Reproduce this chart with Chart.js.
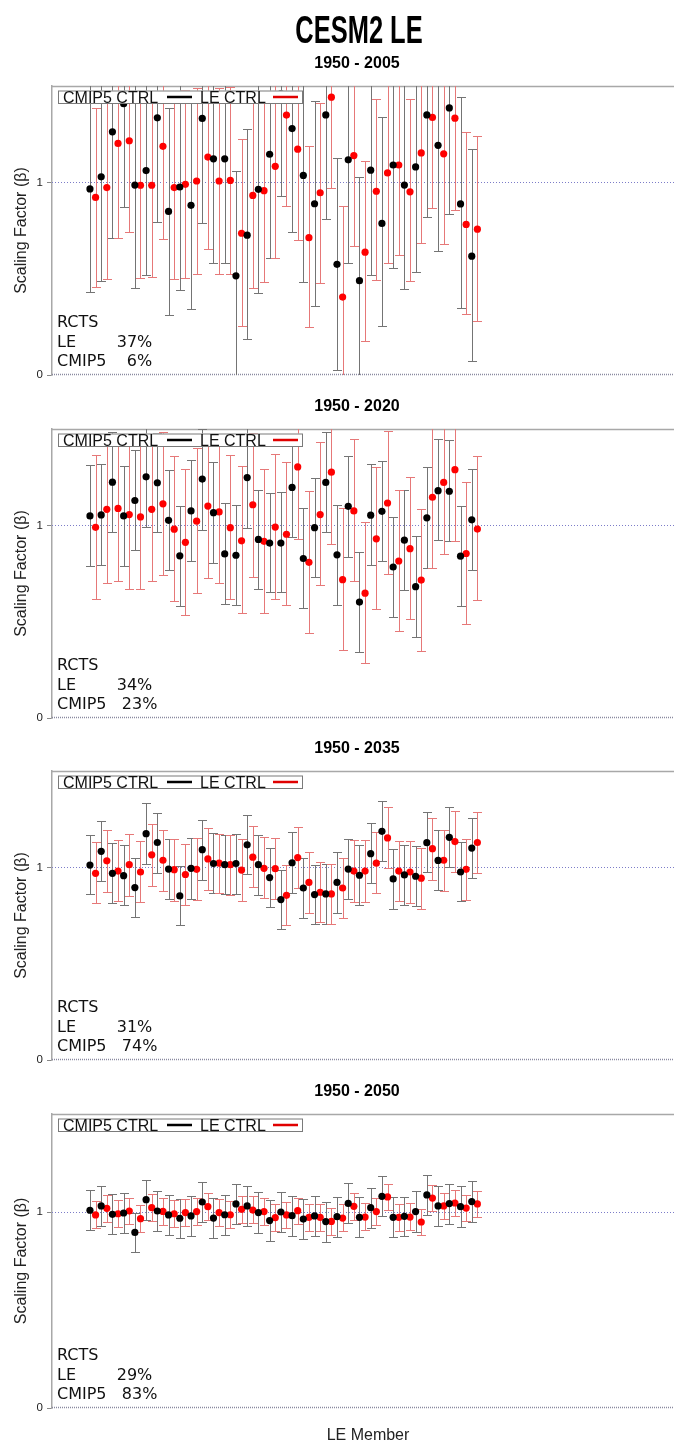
<!DOCTYPE html>
<html>
<head>
<meta charset="utf-8">
<script src="https://cdn.jsdelivr.net/npm/chart.js@4.4.1/dist/chart.umd.min.js"></script>
<style>
  html, body { margin: 0; padding: 0; background: #fff; overflow: hidden; width: 674px; height: 1443px; }
  #wrap { position: relative; width: 674px; height: 1443px; overflow: hidden; }
  canvas { position: absolute; left: 0; }
  #title {
    position: absolute; left: 0; top: 11px; width: 718px; margin: 0;
    text-align: center; font: bold 38px/38px 'Liberation Sans', Arial, sans-serif;
    color: #000; transform: scaleX(0.67); transform-origin: 359px 0;
  }
</style>
</head>
<body>
<div id="wrap">
  <canvas id="p0" width="714" height="386" style="top:0px"></canvas>
  <canvas id="p1" width="714" height="340" style="top:389px"></canvas>
  <canvas id="p2" width="714" height="340" style="top:731px"></canvas>
  <canvas id="p3" width="714" height="380" style="top:1074px"></canvas>
  <h1 id="title">CESM2 LE</h1>
</div>
<script>
// ---- data ----
const periods = ['1950 - 2005', '1950 - 2020', '1950 - 2035', '1950 - 2050'];
const rctsLE = [37, 34, 31, 29];
const rctsCMIP5 = [6, 23, 74, 83];
const yTicks = [0, 1];

// 1950 - 2005
const cmip1V  = [0.966,1.029,1.262,1.408,0.986,1.061,1.335,0.849,0.976,0.881,1.332,1.122,1.122,0.515,0.726,0.964,1.146,1.460,1.279,1.036,0.889,1.350,0.575,1.117,0.490,1.063,0.787,1.090,0.986,1.080,1.350,1.192,1.386,0.888,0.617];
const cmip1Lo = [0.429,0.490,0.709,0.872,0.452,0.520,0.794,0.313,0.444,0.345,0.789,0.580,0.583,-0.030,0.187,0.425,0.607,0.927,0.743,0.485,0.357,0.808,0.029,0.580,-0.049,0.519,0.253,0.554,0.449,0.536,0.818,0.646,0.838,0.349,0.075];
const cmip1Hi = [1.503,1.568,1.815,1.944,1.520,1.602,1.876,1.385,1.508,1.417,1.875,1.664,1.661,1.060,1.279,1.503,1.685,1.993,1.815,1.587,1.421,1.892,1.129,1.654,1.029,1.607,1.338,1.626,1.523,1.624,1.882,1.738,1.934,1.444,1.173];
const le1V    = [0.922,0.973,1.202,1.216,0.985,0.985,1.187,0.973,0.990,1.007,1.131,1.007,1.010,0.736,0.932,0.957,1.083,1.349,1.172,0.713,0.946,1.442,0.405,1.139,0.638,0.954,1.049,1.090,0.951,1.153,1.337,1.148,1.333,0.782,0.757];
const le1Lo   = [0.456,0.497,0.713,0.743,0.503,0.508,0.707,0.500,0.503,0.526,0.656,0.526,0.526,0.255,0.454,0.483,0.607,0.876,0.699,0.250,0.478,0.969,-0.070,0.672,0.175,0.491,0.583,0.622,0.486,0.684,0.869,0.679,0.859,0.318,0.281];
const le1Hi   = [1.388,1.449,1.691,1.689,1.467,1.462,1.667,1.446,1.477,1.488,1.606,1.488,1.494,1.224,1.410,1.431,1.559,1.822,1.645,1.187,1.414,1.915,0.876,1.606,1.110,1.432,1.515,1.558,1.430,1.622,1.805,1.617,1.807,1.259,1.241];

// 1950 - 2020
const cmip2V  = [1.049,1.054,1.224,1.049,1.129,1.252,1.221,1.026,0.842,1.075,1.240,1.066,0.852,0.845,1.248,0.927,0.908,0.908,1.197,0.828,0.988,1.223,0.847,1.099,0.602,1.053,1.073,0.784,0.923,0.682,1.039,1.180,1.177,0.840,1.029];
const cmip2Lo = [0.791,0.796,0.966,0.791,0.871,0.990,0.963,0.767,0.582,0.815,0.978,0.806,0.592,0.588,0.985,0.670,0.653,0.653,0.939,0.570,0.730,0.963,0.588,0.838,0.344,0.796,0.815,0.527,0.667,0.423,0.781,0.922,0.917,0.582,0.769];
const cmip2Hi = [1.313,1.320,1.482,1.310,1.391,1.514,1.479,1.289,1.100,1.338,1.502,1.330,1.114,1.104,1.511,1.185,1.168,1.172,1.455,1.090,1.248,1.483,1.107,1.361,0.861,1.318,1.335,1.044,1.185,0.944,1.304,1.447,1.442,1.102,1.293];
const le2V    = [0.990,1.083,1.088,1.056,1.044,1.083,1.112,0.980,0.912,1.022,1.100,1.070,0.988,0.920,1.107,0.917,0.991,0.954,1.303,0.808,1.056,1.276,0.718,1.075,0.648,0.930,1.116,0.815,0.879,0.716,1.146,1.223,1.289,0.854,0.981];
const le2Lo   = [0.619,0.701,0.709,0.668,0.668,0.711,0.740,0.607,0.534,0.648,0.726,0.701,0.616,0.543,0.733,0.546,0.619,0.588,0.930,0.444,0.689,0.905,0.354,0.709,0.284,0.565,0.750,0.452,0.514,0.350,0.777,0.850,0.918,0.490,0.612];
const le2Hi   = [1.366,1.465,1.467,1.444,1.420,1.455,1.484,1.361,1.294,1.401,1.474,1.439,1.366,1.306,1.481,1.291,1.372,1.328,1.676,1.180,1.432,1.647,1.090,1.449,1.015,1.301,1.490,1.185,1.252,1.085,1.515,1.596,1.660,1.226,1.359];

// 1950 - 2035
const cmip3V  = [1.012,1.083,0.969,0.957,0.895,1.175,1.129,0.991,0.852,0.995,1.092,1.020,1.014,1.020,1.117,1.014,0.947,0.833,1.024,0.893,0.859,0.862,0.922,0.991,0.959,1.071,1.187,0.940,0.961,0.954,1.128,1.036,1.156,0.976,1.100];
const cmip3Lo = [0.861,0.927,0.815,0.804,0.741,1.019,0.973,0.838,0.699,0.838,0.935,0.866,0.861,0.864,0.963,0.859,0.793,0.679,0.867,0.736,0.704,0.707,0.765,0.837,0.804,0.917,1.032,0.786,0.806,0.799,0.974,0.881,1.000,0.823,0.947];
const cmip3Hi = [1.167,1.238,1.126,1.114,1.049,1.332,1.284,1.148,1.005,1.151,1.245,1.179,1.170,1.173,1.274,1.168,1.100,0.988,1.182,1.049,1.014,1.017,1.078,1.146,1.116,1.228,1.342,1.095,1.116,1.109,1.286,1.194,1.313,1.133,1.255];
const le3V    = [0.969,1.034,0.981,1.014,0.976,1.065,1.037,0.988,0.963,0.990,1.044,1.022,1.014,0.986,1.053,0.995,0.993,0.855,1.051,0.922,0.871,0.862,0.893,0.981,0.981,1.022,1.153,0.981,0.976,0.944,1.097,1.037,1.134,0.990,1.129];
const le3Lo   = [0.813,0.872,0.825,0.852,0.818,0.905,0.879,0.828,0.806,0.830,0.884,0.866,0.859,0.827,0.896,0.842,0.837,0.699,0.893,0.765,0.714,0.706,0.736,0.821,0.821,0.866,0.995,0.823,0.816,0.786,0.937,0.879,0.976,0.833,0.971];
const le3Hi   = [1.131,1.192,1.141,1.173,1.139,1.224,1.196,1.146,1.121,1.150,1.202,1.173,1.167,1.146,1.213,1.156,1.150,1.012,1.211,1.078,1.027,1.019,1.049,1.141,1.141,1.182,1.313,1.139,1.136,1.102,1.257,1.196,1.293,1.148,1.289];

// 1950 - 2050
const cmip4V  = [1.009,1.031,0.988,0.995,0.896,1.063,1.005,0.985,0.968,0.980,1.051,0.969,0.986,1.041,1.031,0.997,0.956,1.000,0.981,0.964,0.980,0.951,0.976,1.044,0.973,1.022,1.080,0.973,0.978,1.002,1.087,1.031,1.043,1.027,1.053];
const cmip4Lo = [0.906,0.929,0.886,0.893,0.794,0.961,0.903,0.883,0.867,0.878,0.949,0.867,0.884,0.939,0.929,0.895,0.854,0.898,0.879,0.862,0.879,0.849,0.874,0.942,0.871,0.920,0.978,0.871,0.876,0.900,0.985,0.929,0.940,0.925,0.951];
const cmip4Hi = [1.111,1.134,1.090,1.097,0.997,1.165,1.107,1.085,1.068,1.082,1.155,1.073,1.088,1.145,1.134,1.100,1.060,1.102,1.083,1.066,1.083,1.053,1.078,1.146,1.075,1.124,1.182,1.075,1.078,1.107,1.190,1.133,1.145,1.131,1.156];
const le4V    = [0.985,1.019,0.991,1.005,0.966,1.022,1.003,0.991,0.997,1.002,1.027,0.997,0.986,1.014,1.010,1.002,0.971,0.985,1.007,0.973,0.973,0.952,0.969,1.029,0.974,1.002,1.077,0.973,0.974,0.949,1.071,1.031,1.046,1.020,1.041];
const le4Lo   = [0.918,0.951,0.923,0.939,0.896,0.954,0.934,0.923,0.929,0.934,0.959,0.927,0.918,0.946,0.942,0.934,0.903,0.917,0.937,0.905,0.905,0.884,0.901,0.961,0.906,0.934,1.008,0.905,0.906,0.883,1.003,0.963,0.978,0.952,0.973];
const le4Hi   = [1.056,1.086,1.061,1.070,1.034,1.090,1.071,1.061,1.066,1.071,1.095,1.066,1.056,1.082,1.080,1.070,1.041,1.053,1.073,1.041,1.041,1.020,1.039,1.097,1.044,1.070,1.145,1.042,1.044,1.017,1.139,1.099,1.114,1.088,1.109];

const cmipV  = [cmip1V, cmip2V, cmip3V, cmip4V];
const cmipLo = [cmip1Lo, cmip2Lo, cmip3Lo, cmip4Lo];
const cmipHi = [cmip1Hi, cmip2Hi, cmip3Hi, cmip4Hi];
const leV    = [le1V, le2V, le3V, le4V];
const leLo   = [le1Lo, le2Lo, le3Lo, le4Lo];
const leHi   = [le1Hi, le2Hi, le3Hi, le4Hi];

// ---- style ----
const SANS = "'Liberation Sans', Arial, sans-serif";
const DEJA = "'DejaVu Sans', sans-serif";
const X_MIN = -3.38, X_MAX = 52.9;   // member axis (black at i, red at i+0.5)

Chart.defaults.font.family = SANS;
Chart.defaults.color = '#222';

// error bars under the points
const errorBars = {
  id: 'errorBars',
  beforeDatasetsDraw(chart) {
    const { ctx, chartArea: a, scales: { x, y } } = chart;
    ctx.save();
    ctx.beginPath();
    ctx.rect(a.left, a.top, a.right - a.left, a.bottom - a.top);
    ctx.clip();
    ctx.lineWidth = 1;
    chart.data.datasets.forEach(ds => {
      ctx.strokeStyle = ds.barColor;
      ds.data.forEach((p, i) => {
        const px = Math.round(x.getPixelForValue(p.x)) + 0.5;
        const yt = Math.round(y.getPixelForValue(ds.hi[i])) + 0.5;
        const yb = Math.round(y.getPixelForValue(ds.lo[i])) + 0.5;
        ctx.beginPath();
        ctx.moveTo(px, yt); ctx.lineTo(px, yb);
        ctx.moveTo(px - 4.5, yt); ctx.lineTo(px + 4.5, yt);
        ctx.moveTo(px - 4.5, yb); ctx.lineTo(px + 4.5, yb);
        ctx.stroke();
      });
    });
    ctx.restore();
  }
};

// frame: top border, dotted zero line, dotted 1 line
const frame = {
  id: 'frame',
  beforeDatasetsDraw(chart) {
    const { ctx, chartArea: a, scales: { y } } = chart;
    ctx.save();
    ctx.strokeStyle = '#a8a8a8';
    ctx.lineWidth = 1.5;
    ctx.beginPath(); ctx.moveTo(a.left, a.top + 0.5); ctx.lineTo(a.right + 40, a.top + 0.5); ctx.stroke();
    const y1 = Math.round(y.getPixelForValue(1)) + 0.5;
    ctx.strokeStyle = '#7c7cc8';
    ctx.lineWidth = 1;
    ctx.setLineDash([1, 2]);
    ctx.beginPath(); ctx.moveTo(a.left, y1); ctx.lineTo(a.right + 40, y1); ctx.stroke();
    const y0 = Math.round(y.getPixelForValue(0)) - 0.5;
    ctx.strokeStyle = '#8a8aa0';
    ctx.lineWidth = 1.5;
    ctx.setLineDash([1, 1]);
    ctx.beginPath(); ctx.moveTo(a.left, y0); ctx.lineTo(a.right + 40, y0); ctx.stroke();
    ctx.restore();
  }
};

// boxed legend + RCTS note inside the plot
const annotations = {
  id: 'annotations',
  afterDatasetsDraw(chart, args, opts) {
    const { ctx, chartArea: a } = chart;
    ctx.save();
    const bx = a.left + 6, by = a.top + 4.5, bw = 244, bh = 12.5;
    ctx.fillStyle = '#fff';
    ctx.fillRect(bx, by, bw, bh);
    ctx.strokeStyle = '#7a7a7a';
    ctx.lineWidth = 1;
    ctx.strokeRect(bx + 0.5, by + 0.5, bw, bh);
    ctx.fillStyle = '#111';
    ctx.font = '16px ' + SANS;
    ctx.textBaseline = 'alphabetic';
    ctx.fillText(chart.data.datasets[0].label, a.left + 11, by + bh - 0.5);
    ctx.fillText(chart.data.datasets[1].label, a.left + 148, by + bh - 0.5);
    ctx.lineWidth = 2.5;
    ctx.strokeStyle = '#000';
    ctx.beginPath(); ctx.moveTo(a.left + 115, by + 6.5); ctx.lineTo(a.left + 140, by + 6.5); ctx.stroke();
    ctx.strokeStyle = '#e00000';
    ctx.beginPath(); ctx.moveTo(a.left + 221, by + 6.5); ctx.lineTo(a.left + 246, by + 6.5); ctx.stroke();

    const pad3 = n => String(n).padStart(3, ' ');
    ctx.fillStyle = '#111';
    ctx.font = '16px ' + DEJA;
    const x0 = a.left + 5;
    ctx.fillText('RCTS', x0, a.bottom - 48.5);
    ctx.fillText('LE       ' + pad3(opts.le) + '%', x0, a.bottom - 28.5);
    ctx.fillText('CMIP5  ' + pad3(opts.cmip) + '%', x0, a.bottom - 9.5);
    ctx.restore();
  }
};

function makePanel(k) {
  const last = k === 3;
  const first = k === 0;
  const ctx = document.getElementById('p' + k).getContext('2d');
  return new Chart(ctx, {
    type: 'scatter',
    data: {
      datasets: [
        {
          label: 'CMIP5 CTRL',
          data: cmipV[k].map((v, i) => ({ x: i, y: v })),
          lo: cmipLo[k], hi: cmipHi[k],
          barColor: '#747474',
          backgroundColor: '#000000',
          pointRadius: 3.6, borderWidth: 0
        },
        {
          label: 'LE CTRL',
          data: leV[k].map((v, i) => ({ x: i + 0.5, y: v })),
          lo: leLo[k], hi: leHi[k],
          barColor: '#e67878',
          backgroundColor: '#ff0000',
          pointRadius: 3.6, borderWidth: 0
        }
      ]
    },
    options: {
      responsive: false,
      animation: false,
      devicePixelRatio: 1,
      events: [],
      layout: { padding: { left: 0, right: 0, top: 0, bottom: last ? 0 : 6 } },
      plugins: {
        legend: { display: false },
        tooltip: { enabled: false },
        title: { display: false },
        subtitle: {
          display: true,
          text: periods[k],
          color: '#000',
          font: { family: SANS, size: 16, weight: 'bold' },
          padding: first ? { top: 54.4, bottom: 12.4 } : { top: 8.4, bottom: 12.4 }
        },
        annotations: { le: rctsLE[k], cmip: rctsCMIP5[k] }
      },
      scales: {
        x: {
          type: 'linear', min: X_MIN, max: X_MAX,
          display: last,
          ticks: { display: false },
          grid: { display: false, drawTicks: false },
          border: { display: false },
          title: {
            display: true, text: 'LE Member', color: '#222',
            font: { family: SANS, size: 16 },
            padding: { top: 18.4, bottom: 8.4 }
          }
        },
        y: {
          min: 0, max: 1.5,
          afterBuildTicks: s => { s.ticks = yTicks.map(v => ({ value: v })); },
          afterFit: s => { s.width = 52; },
          ticks: { font: { family: SANS, size: 11.5 }, color: '#222', padding: 4 },
          grid: { drawOnChartArea: false, tickLength: 5, color: '#888', tickColor: '#888' },
          border: { display: true, color: '#a8a8a8', width: 1.5 },
          title: {
            display: true, text: 'Scaling Factor (β)', color: '#222',
            font: { family: SANS, size: 16 },
            padding: { top: 12, bottom: 0 }
          }
        },
        yr: {
          position: 'right', display: true,
          ticks: { display: false },
          grid: { display: false, drawTicks: false },
          border: { display: false },
          afterFit: s => { s.width = 30; }
        }
      }
    },
    plugins: [frame, errorBars, annotations]
  });
}

[0, 1, 2, 3].forEach(makePanel);
</script>
</body>
</html>
